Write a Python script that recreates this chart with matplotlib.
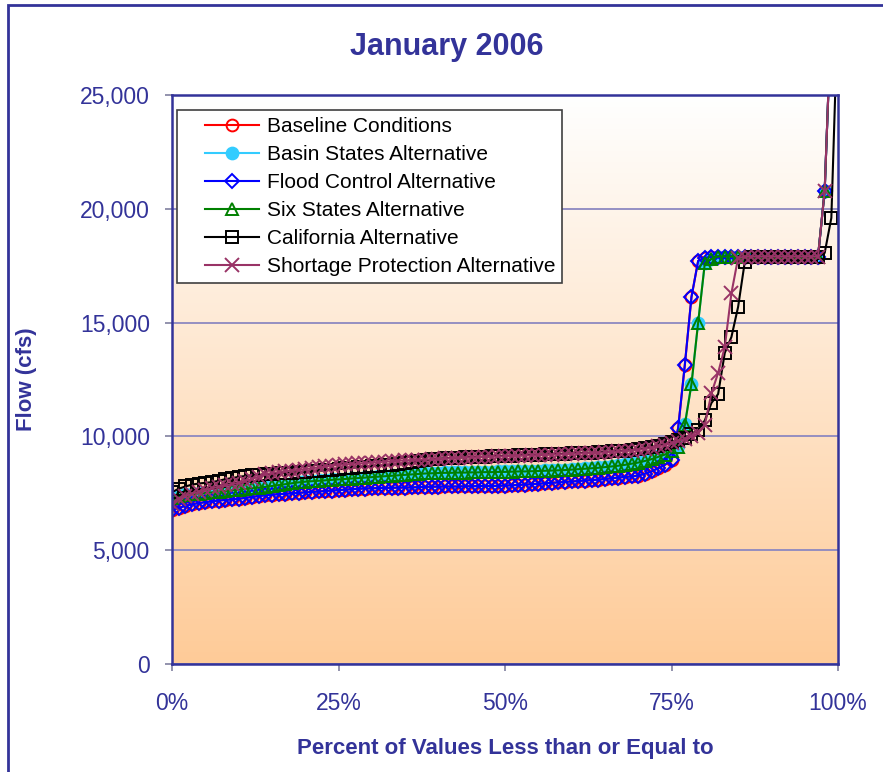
import matplotlib
matplotlib.use("Agg")
import matplotlib.pyplot as plt
import numpy as np
from matplotlib.colors import LinearSegmentedColormap
from matplotlib.patches import Rectangle
from matplotlib.legend_handler import HandlerLine2D
from matplotlib.ticker import FuncFormatter, PercentFormatter

plt.rcParams["font.family"] = ["Liberation Sans", "DejaVu Sans"]

# percent of values less than or equal to (101 ranks, 0..100 %)
percent = [i / 100 for i in range(101)]

baseline = [
    6760, 6860, 6950, 7020, 7070, 7110, 7150, 7180, 7210, 7230,
    7260, 7300, 7340, 7380, 7410, 7440, 7460, 7480, 7500, 7520,
    7540, 7560, 7580, 7600, 7620, 7640, 7660, 7680, 7700, 7710,
    7720, 7730, 7740, 7740, 7750, 7750, 7760, 7770, 7780, 7790,
    7790, 7800, 7800, 7800, 7810, 7810, 7820, 7820, 7820, 7830,
    7840, 7850, 7870, 7880, 7900, 7920, 7940, 7960, 7980, 8000,
    8020, 8040, 8060, 8080, 8100, 8130, 8160, 8190, 8220, 8240,
    8280, 8360, 8460, 8600, 8750, 8950, 10370, 13140, 16130, 17710,
    17850, 17900, 17900, 17900, 17900, 17900, 17900, 17900, 17900, 17900,
    17900, 17900, 17900, 17900, 17900, 17900, 17900, 17900, 20800, 28600,
    33000,
]

basin_states = [
    7320, 7400, 7450, 7480, 7510, 7530, 7560, 7590, 7620, 7650,
    7680, 7710, 7740, 7770, 7800, 7840, 7880, 7920, 7960, 8000,
    8030, 8050, 8070, 8090, 8110, 8130, 8150, 8170, 8190, 8210,
    8230, 8250, 8270, 8290, 8310, 8330, 8350, 8370, 8390, 8400,
    8410, 8420, 8420, 8430, 8430, 8440, 8440, 8450, 8450, 8460,
    8460, 8470, 8480, 8480, 8490, 8500, 8510, 8520, 8530, 8540,
    8560, 8580, 8600, 8620, 8640, 8670, 8700, 8730, 8770, 8820,
    8870, 8940, 9020, 9120, 9220, 9370, 9570, 10550, 12300, 15000,
    17600, 17800, 17900, 17900, 17900, 17900, 17900, 17900, 17900, 17900,
    17900, 17900, 17900, 17900, 17900, 17900, 17900, 17900, 20800, 28600,
    33000,
]

flood_control = [
    6750, 6850, 6950, 7020, 7070, 7110, 7150, 7180, 7210, 7230,
    7260, 7300, 7340, 7380, 7410, 7440, 7460, 7480, 7500, 7520,
    7540, 7560, 7580, 7600, 7620, 7640, 7660, 7680, 7700, 7710,
    7720, 7730, 7740, 7740, 7750, 7750, 7760, 7770, 7780, 7790,
    7790, 7800, 7800, 7800, 7810, 7810, 7820, 7820, 7820, 7830,
    7840, 7850, 7870, 7880, 7900, 7920, 7940, 7960, 7980, 8000,
    8020, 8040, 8060, 8080, 8100, 8130, 8160, 8190, 8220, 8240,
    8280, 8360, 8460, 8600, 8750, 8950, 10370, 13140, 16130, 17710,
    17850, 17900, 17900, 17900, 17900, 17900, 17900, 17900, 17900, 17900,
    17900, 17900, 17900, 17900, 17900, 17900, 17900, 17900, 20800, 28600,
    33000,
]

six_states = [
    7300, 7380, 7430, 7460, 7490, 7510, 7540, 7570, 7600, 7630,
    7660, 7690, 7720, 7750, 7780, 7820, 7860, 7900, 7940, 7980,
    8010, 8030, 8050, 8070, 8090, 8110, 8130, 8150, 8170, 8190,
    8210, 8230, 8250, 8270, 8290, 8310, 8330, 8350, 8370, 8380,
    8390, 8400, 8400, 8410, 8410, 8420, 8420, 8430, 8430, 8440,
    8440, 8450, 8460, 8460, 8470, 8480, 8490, 8500, 8510, 8520,
    8540, 8560, 8580, 8600, 8620, 8650, 8680, 8710, 8750, 8800,
    8850, 8920, 9000, 9100, 9200, 9350, 9550, 10500, 12300, 15000,
    17600, 17800, 17900, 17900, 17900, 17900, 17900, 17900, 17900, 17900,
    17900, 17900, 17900, 17900, 17900, 17900, 17900, 17900, 20800, 28600,
    33000,
]

california = [
    7550, 7700, 7800, 7880, 7930, 7960, 7990, 8050, 8120, 8170,
    8220, 8260, 8290, 8310, 8330, 8350, 8370, 8390, 8410, 8430,
    8450, 8470, 8490, 8510, 8530, 8560, 8590, 8620, 8650, 8670,
    8690, 8710, 8730, 8760, 8790, 8820, 8860, 8900, 8950, 8990,
    9020, 9040, 9060, 9070, 9080, 9090, 9100, 9110, 9130, 9140,
    9150, 9160, 9170, 9180, 9190, 9200, 9210, 9220, 9230, 9240,
    9260, 9270, 9280, 9290, 9300, 9320, 9340, 9360, 9380, 9400,
    9430, 9470, 9530, 9600, 9680, 9760, 9850, 9950, 10100, 10300,
    10700, 11470, 11860, 13670, 14370, 15690, 17660, 17900, 17900, 17900,
    17900, 17900, 17900, 17900, 17900, 17900, 17900, 17900, 18060, 19600,
    29000,
]

shortage_protection = [
    7050, 7250, 7380, 7480, 7570, 7650, 7720, 7790, 7850, 7900,
    7960, 8040, 8130, 8230, 8330, 8390, 8430, 8470, 8500, 8530,
    8560, 8600, 8640, 8680, 8720, 8750, 8770, 8790, 8810, 8830,
    8850, 8870, 8890, 8910, 8930, 8950, 8960, 8970, 8980, 8990,
    9010, 9030, 9050, 9060, 9070, 9080, 9090, 9100, 9110, 9120,
    9130, 9140, 9150, 9160, 9170, 9180, 9190, 9200, 9210, 9220,
    9240, 9250, 9260, 9270, 9280, 9300, 9320, 9340, 9360, 9380,
    9410, 9450, 9500, 9560, 9620, 9700, 9800, 9900, 10000, 10150,
    10500, 11900, 12790, 13930, 16300, 17840, 17900, 17900, 17900, 17900,
    17900, 17900, 17900, 17900, 17900, 17900, 17900, 17900, 20800, 28600,
    33000,
]

series = [
    ("Baseline Conditions", baseline, "#FF0000", "o", "none"),
    ("Basin States Alternative", basin_states, "#33CCFF", "o", "#33CCFF"),
    ("Flood Control Alternative", flood_control, "#0000FF", "D", "none"),
    ("Six States Alternative", six_states, "#008000", "^", "none"),
    ("California Alternative", california, "#000000", "s", "none"),
    ("Shortage Protection Alternative", shortage_protection, "#993366", "x", "none"),
]

navy = "#333399"


class TrimmedLine(HandlerLine2D):
    # legend sample line starts a bit right of the box edge, like Excel's
    def create_artists(self, legend, orig_handle, xdescent, ydescent, width, height, fontsize, trans):
        pad = 0.27 * width
        return super().create_artists(legend, orig_handle, xdescent - pad, ydescent,
                                      width - pad, height, fontsize, trans)


fig = plt.figure(figsize=(8.83, 7.72), dpi=100)
ax = fig.add_axes([172 / 883, 1 - 664 / 772, 666 / 883, 569 / 772])

# outer chart frame (cut off at right and bottom like the original)
fig.patches.append(Rectangle((8 / 883, -0.1), 1.2, 1.1 - 5 / 772, transform=fig.transFigure,
                             fill=False, edgecolor=navy, lw=2.0))

# white to peach gradient behind the plot area
cmap = LinearSegmentedColormap.from_list("peach", ["#FECB98", "#FFFFFF"])
grad = np.linspace(0, 1, 256).reshape(-1, 1)
ax.imshow(grad, cmap=cmap, origin="lower", aspect="auto",
          extent=[0, 1, 0, 25000], zorder=0)

for label, vals, col, mk, mfc in series:
    ms = 8.5 if mk != "D" else 7
    if mk == "x":
        ms = 9.5
    ax.plot(percent, vals, color=col, lw=1.5, marker=mk, ms=ms, mfc=mfc,
            mec=col, mew=1.4, label=label, zorder=3, clip_on=True)

ax.set_xlim(0, 1)
ax.set_ylim(0, 25000)
ax.set_xticks([0, 0.25, 0.5, 0.75, 1.0])
ax.set_yticks(range(0, 25001, 5000))
ax.xaxis.set_major_formatter(PercentFormatter(1.0, decimals=0))
ax.yaxis.set_major_formatter(FuncFormatter(lambda v, p: f"{int(v):,}"))
ax.yaxis.grid(True, color="#8C88C0", lw=1.3, zorder=1)
ax.set_axisbelow(False)
for g in ax.get_ygridlines():
    g.set_zorder(1)

for s in ax.spines.values():
    s.set_color(navy)
    s.set_linewidth(1.8)
    s.set_zorder(4)

ax.tick_params(axis="both", colors="#8080A0", labelcolor=navy, labelsize=16.5,
               length=5, width=1.2, direction="out")
ax.tick_params(axis="x", pad=15)
ax.tick_params(axis="y", pad=11)

ax.set_ylabel("Flow (cfs)", color=navy, fontsize=16, fontweight="bold")
ax.yaxis.set_label_coords(-0.202, 0.5)
ax.set_xlabel("Percent of Values Less than or Equal to", color=navy, fontsize=16,
              fontweight="bold")
ax.xaxis.set_label_coords(0.5, -0.130)
fig.text(447 / 883, 1 - 47 / 772, "January 2006", color=navy, fontsize=22,
         fontweight="bold", ha="center", va="center")

leg = ax.legend(loc="upper left", bbox_to_anchor=(0.0075, 0.9736), fontsize=15,
                frameon=True, fancybox=False, edgecolor="#404040", framealpha=1,
                handlelength=3.6, labelspacing=0.43, borderpad=0.35,
                borderaxespad=0, handletextpad=0.35,
                handler_map={plt.Line2D: TrimmedLine()})
leg.get_frame().set_linewidth(1.2)
leg.set_zorder(5)

fig.savefig("out.png", dpi=100)
